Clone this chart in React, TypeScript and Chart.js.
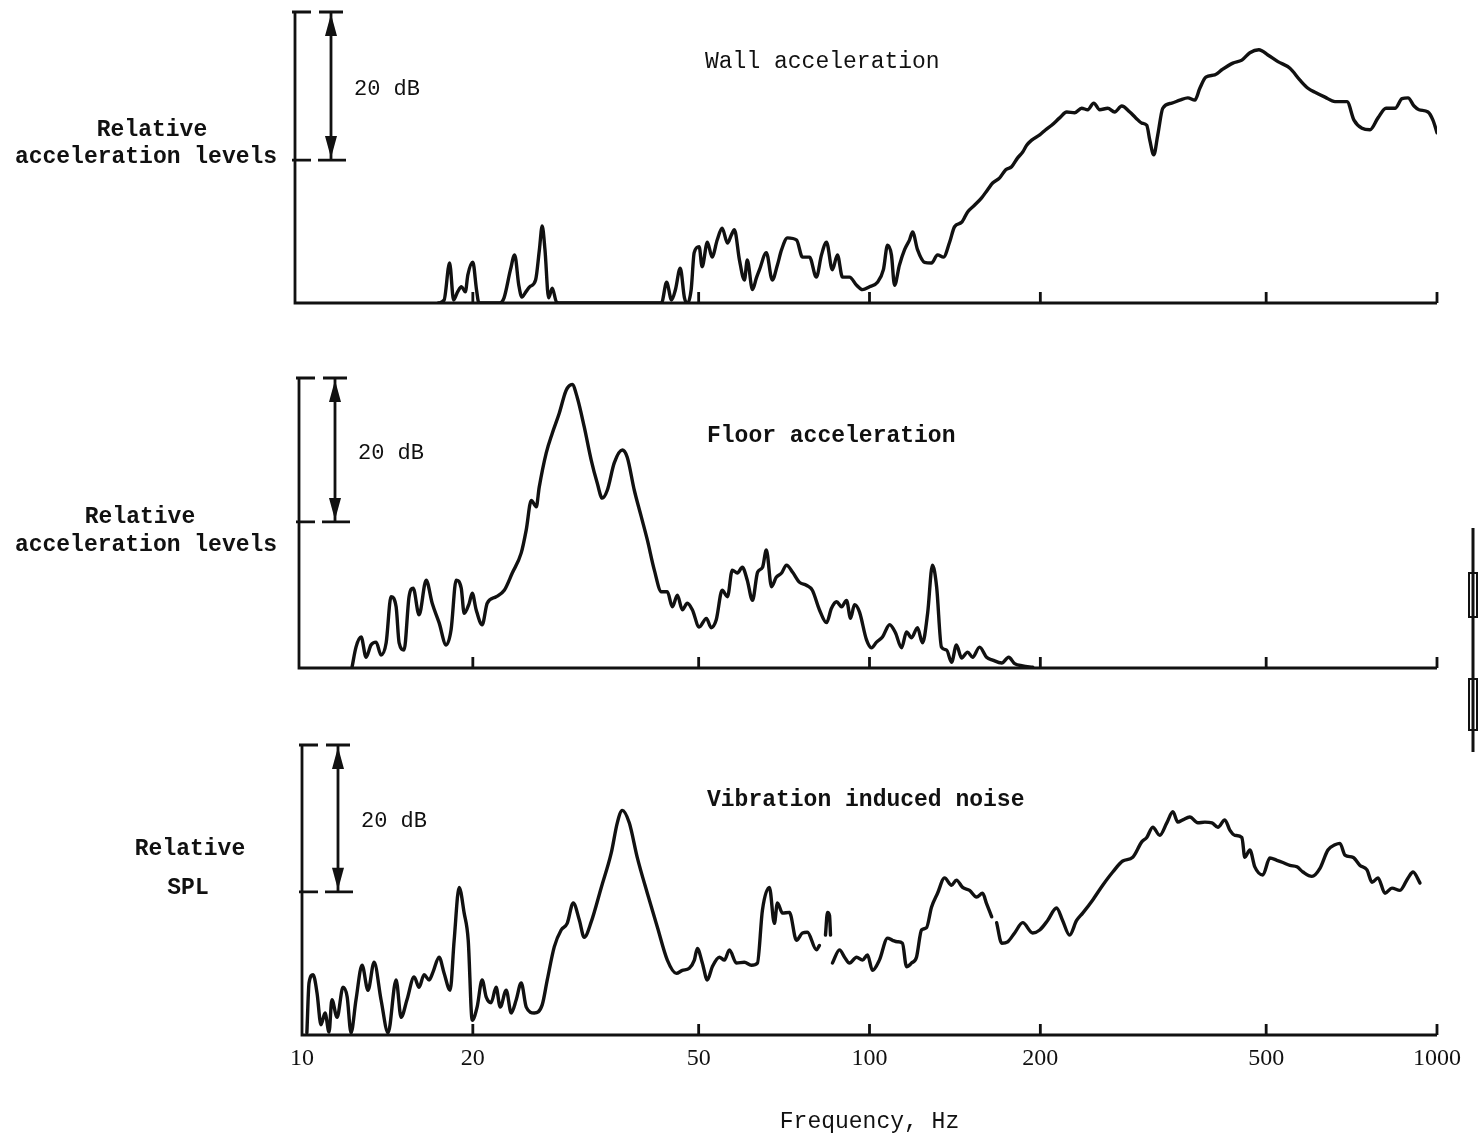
import React, { useEffect, useRef } from "react";
import { Chart, registerables } from "chart.js";

Chart.register(...registerables);

// ---------- data ----------
const xTickValues = [10, 20, 50, 100, 200, 500, 1000];
const xTickLabels = ["10", "20", "50", "100", "200", "500", "1000"];

const wallFreq = [
  17.4, 17.8, 18.2, 18.5, 18.8, 19.1, 19.4, 19.6, 20.0, 20.3,
  20.5, 22.3, 22.7, 23.3, 23.7, 24.1, 24.4, 24.8, 25.2, 25.8,
  26.2, 26.5, 26.8, 27.2, 27.6, 28.1, 28.6, 43.0, 43.9, 44.8,
  45.5, 46.4, 47.2, 47.8, 48.5, 49.1, 50.1, 50.7, 51.8, 52.8,
  53.9, 55.0, 56.2, 57.1, 57.8, 59.0, 60.2, 60.9, 62.2, 63.2,
  64.0, 65.8, 67.4, 68.8, 70.0, 71.7, 74.4, 76.2, 78.4, 80.6,
  82.3, 84.0, 86.0, 87.8, 89.6, 92.2, 94.9, 97.2, 100, 103.3,
  105.8, 107.6, 109.3, 110.7, 112.9, 115.3, 117.6, 119.1, 121.5, 125.0,
  128.6, 131.8, 135.0, 138.4, 141.2, 145.3, 148.9, 153.1, 157.6, 161.5,
  164.8, 169.6, 173.8, 178.0, 182.4, 186.2, 189.2, 193.1, 199.5, 204.4,
  209.4, 216.3, 222.6, 229.9, 236.5, 242.4, 248.4, 254.5, 262.9, 270.4,
  278.3, 287.5, 294.6, 301.8, 308.0, 311.8, 316.9, 322.1, 328.7, 341.0,
  352.2, 363.9, 374.4, 382.0, 391.5, 406.0, 417.7, 436.8, 453.1, 468.0,
  485.5, 503.5, 524.4, 550.6, 573.5, 592.4, 612.0, 634.8, 661.1, 694.0,
  714.0, 737.6, 762.0, 787.1, 813.2, 843.4, 867.8, 889.2, 911.2, 929.5,
  964.1, 983.7, 1000,
];
const wallLevel = [
  0, 0.4, 5.4, 0.4, 1.5, 2.2, 1.5, 3.8, 5.5, 1.8,
  0, 0, 0.7, 4.5, 6.5, 2.4, 0.8, 1.5, 2.2, 3.1,
  7.2, 10.4, 7.2, 0.7, 2.0, 0.1, 0, 0, 2.8, 0.4,
  1.8, 4.7, 0.7, 0, 1.8, 6.8, 7.6, 4.9, 8.2, 6.2,
  8.5, 10.1, 8.1, 9.2, 9.9, 5.8, 3.1, 5.8, 1.8, 3.4,
  4.5, 6.8, 3.1, 5.1, 7.2, 8.8, 8.5, 6.2, 6.2, 3.5,
  6.5, 8.2, 4.5, 6.5, 3.5, 3.5, 2.4, 1.8, 2.2, 2.8,
  4.5, 7.8, 6.5, 2.4, 5.1, 7.2, 8.5, 9.6, 7.2, 5.5,
  5.4, 6.5, 6.2, 8.2, 10.3, 10.9, 12.3, 13.2, 14.2, 15.3,
  16.2, 16.9, 18.0, 18.4, 19.6, 20.4, 21.3, 22.0, 22.7, 23.4,
  24.0, 25.0, 25.8, 25.7, 26.3, 26.1, 27.0, 26.1, 26.3, 25.8,
  26.6, 25.8, 25.0, 24.3, 24.0, 22.0, 20.0, 22.7, 26.3, 27.0,
  27.4, 27.7, 27.4, 29.0, 30.5, 30.8, 31.5, 32.4, 32.8, 33.8,
  34.2, 33.5, 32.6, 31.7, 30.1, 29.0, 28.4, 27.8, 27.2, 27.2,
  24.7, 23.6, 23.4, 25.0, 26.3, 26.3, 27.6, 27.7, 26.6, 26.1,
  25.8, 24.7, 23.0,
];

const floorFreq = [
  12.25, 12.45, 12.71, 12.97, 13.23, 13.51, 13.78, 14.07, 14.35, 14.65,
  14.83, 15.13, 15.44, 15.70, 16.08, 16.55, 16.96, 17.44, 17.95, 18.31,
  18.69, 19.08, 19.31, 19.71, 19.95, 20.27, 20.77, 21.20, 21.98, 22.72,
  23.47, 24.34, 24.84, 25.35, 25.87, 26.18, 26.94, 27.60, 28.40, 29.21,
  29.93, 30.55, 31.43, 32.33, 33.13, 33.81, 34.51, 35.50, 36.67, 37.42,
  38.51, 39.62, 40.60, 41.77, 42.98, 44.03, 44.94, 45.86, 46.80, 47.75,
  48.73, 50.1, 51.6, 52.6, 53.7, 55.0, 56.2, 57.3, 58.5, 59.7,
  60.9, 62.2, 63.5, 64.8, 65.8, 67.2, 68.5, 70.0, 71.4, 73.2,
  75.3, 77.4, 79.3, 81.6, 84.0, 85.7, 87.5, 89.3, 91.1, 92.6,
  94.1, 96.0, 98.8, 100.8, 102.9, 105.4, 108.5, 111.1, 113.9, 116.2,
  118.6, 121.5, 124.0, 126.6, 129.1, 131.3, 133.9, 136.7, 139.5, 142.3,
  145.3, 148.9, 151.9, 156.3, 160.8, 164.8, 171.0, 175.9, 180.2, 186.2,
  193.9,
];
const floorLevel = [
  0.1, 2.9, 4.3, 1.5, 3.2, 3.6, 1.8, 3.5, 9.9, 8.5,
  3.5, 2.5, 9.9, 11.1, 7.4, 12.2, 9.0, 6.3, 3.2, 5.3,
  12.2, 11.1, 7.6, 9.0, 10.4, 8.1, 6.0, 9.0, 9.9, 10.8,
  13.2, 16.0, 19.2, 23.3, 22.4, 25.1, 29.9, 32.6, 35.4, 38.6,
  39.4, 37.6, 33.5, 28.9, 25.7, 23.6, 24.7, 28.5, 30.3, 29.3,
  24.7, 21.0, 17.8, 13.6, 10.6, 10.6, 8.5, 10.1, 8.1, 9.0,
  8.1, 5.7, 6.9, 5.6, 6.7, 10.8, 9.9, 13.6, 13.2, 14.0,
  12.2, 9.4, 13.3, 14.0, 16.4, 11.3, 12.6, 13.2, 14.3, 13.3,
  11.9, 11.5, 10.8, 8.1, 6.3, 8.3, 9.2, 8.5, 9.4, 6.9,
  8.8, 7.8, 3.9, 2.8, 3.6, 4.3, 6.0, 4.9, 2.8, 5.0,
  4.2, 5.6, 3.5, 7.6, 14.3, 11.3, 2.9, 2.5, 0.8, 3.2,
  1.4, 2.2, 1.5, 2.9, 1.5, 1.1, 0.7, 1.5, 0.6, 0.3,
  0.1,
];

const noiseFreq = [
  10.2, 10.29, 10.46, 10.63, 10.80, 10.98, 11.16, 11.29, 11.53, 11.81,
  12.01, 12.20, 12.45, 12.76, 13.07, 13.40, 13.78, 14.18, 14.65, 14.95,
  15.31, 15.76, 16.08, 16.41, 16.75, 17.02, 17.44, 17.80, 18.24, 18.54,
  18.92, 19.31, 19.63, 19.95, 20.35, 20.77, 21.11, 21.54, 21.98, 22.35,
  22.90, 23.37, 23.85, 24.34, 24.84, 25.66, 26.50, 27.05, 27.83, 28.62,
  29.33, 30.06, 30.80, 31.43, 32.33, 33.68, 35.07, 35.94, 36.67, 37.73,
  38.97, 40.60, 42.28, 44.03, 45.67, 46.80, 48.14, 49.13, 49.73, 50.75,
  51.79, 52.85, 54.38, 55.51, 56.65, 58.27, 60.19, 61.93, 63.46, 64.76,
  66.62, 67.98, 68.82, 70.25, 72.27, 74.35, 76.17, 77.72, 80.64, 81.61,
  82.6, 83.64, 84.33, 85.02, 85.37, 85.7, 86.04, 88.54, 90.37, 92.2,
  94.9, 97.2, 99.2, 101.2, 104.1, 107.6, 109.8, 112.0, 114.3, 116.2,
  118.6, 121.0, 123.5, 126.0, 128.6, 131.8, 135.6, 139.5, 142.3, 145.9,
  150.1, 154.4, 158.2, 160.8, 164.2, 165.8, 167.5, 171.0, 175.2, 180.2,
  186.2, 193.9, 199.5, 206.0, 213.6, 218.9, 225.2, 231.7, 237.5, 247.4,
  257.6, 268.3, 279.4, 291.0, 301.8, 308.0, 315.6, 324.7, 334.1, 342.4,
  349.4, 356.5, 366.8, 378.9, 389.9, 401.2, 411.1, 422.8, 431.5, 440.3,
  453.1, 458.5, 468.0, 477.5, 493.3, 507.5, 522.2, 535.1, 550.6, 566.5,
  580.5, 602.0, 621.9, 642.4, 661.1, 674.5, 688.3, 711.1, 731.7, 752.7,
  768.2, 787.1, 809.8, 833.0, 860.4, 889.2, 907.5, 933.3,
];
const noiseLevel = [
  0.3, 7.1, 8.2, 5.7, 1.4, 3.0, 0.4, 4.8, 2.4, 6.5,
  5.2, 0.3, 4.8, 9.5, 6.1, 9.9, 4.8, 0.3, 7.5, 2.4,
  4.8, 7.9, 6.5, 8.2, 7.5, 8.6, 10.6, 8.4, 6.1, 12.9,
  20.1, 16.6, 12.9, 2.0, 3.8, 7.5, 5.2, 4.4, 6.5, 3.8,
  6.1, 3.0, 4.8, 7.1, 3.8, 3.0, 4.1, 7.5, 12.0, 14.3,
  15.2, 18.0, 15.7, 13.3, 15.4, 20.1, 24.8, 28.9, 30.6, 28.9,
  24.2, 19.3, 14.7, 10.2, 8.4, 8.8, 9.1, 10.2, 11.8, 9.8,
  7.5, 9.3, 10.6, 10.2, 11.6, 9.8, 9.9, 9.5, 9.8, 17.0,
  20.1, 15.2, 18.0, 16.6, 16.7, 12.9, 13.9, 14.0, 11.6, 12.2,
  null, 13.6, 16.7, 16.3, 13.6, null, 9.8, 11.6, 10.6, 9.8,
  10.6, 10.2, 10.9, 8.8, 10.2, 13.2, 12.9, 12.7, 12.5, 9.3,
  9.8, 10.6, 14.3, 14.6, 17.4, 19.3, 21.4, 20.4, 21.1, 20.1,
  19.7, 18.8, 19.3, 17.9, 16.1, null, 15.3, 12.5, 12.7, 13.9,
  15.3, 13.9, 14.3, 15.6, 17.3, 15.6, 13.6, 15.6, 16.6, 18.4,
  20.4, 22.2, 23.7, 24.2, 26.3, 26.9, 28.3, 27.2, 28.9, 30.4,
  29.0, 29.3, 29.7, 28.9, 29.0, 28.9, 28.3, 29.3, 27.9, 27.2,
  26.9, 24.2, 25.2, 22.9, 21.8, 24.1, 23.8, 23.5, 23.1, 22.9,
  22.2, 21.6, 22.7, 25.2, 25.9, 26.1, 24.5, 24.2, 23.1, 22.5,
  20.8, 21.4, 19.3, 20.0, 19.7, 21.4, 22.2, 20.7,
];

const panelTitles = ["Wall acceleration", "Floor acceleration", "Vibration induced noise"];
const panelSideLabels = [
  ["Relative", "acceleration levels"],
  ["Relative", "acceleration levels"],
  ["Relative", "SPL"],
];
const panelRangeDb = [39.3, 40.3, 39.5];
const scaleBarDb = 20;
const scaleBarLabel = "20 dB";
const xAxisTitle = "Frequency, Hz";

// ---------- styling / layout ----------
const INK = "#111111";
const MONO = "'Liberation Mono', 'DejaVu Sans Mono', monospace";
const SERIF = "'Liberation Serif', 'DejaVu Serif', serif";

const layouts = [
  { top: 0, height: 330, padTop: 12, padBottom: 27, dx: -4, titleDx: 403, titleDy: 50, titleBold: false, side: [[-150, 118], [-156, 145]], axis: false, margin: false },
  { top: 355, height: 405, padTop: 23, padBottom: 92, dx: 0, titleDx: 405, titleDy: 58, titleBold: true, side: [[-162, 139], [-156, 167]], axis: false, margin: true },
  { top: 725, height: 413, padTop: 20, padBottom: 0, dx: 3, titleDx: 405, titleDy: 55, titleBold: true, side: [[-112, 104], [-114, 143]], axis: true, margin: false },
];

const series = [
  { freq: wallFreq, level: wallLevel },
  { freq: floorFreq, level: floorLevel },
  { freq: noiseFreq, level: noiseLevel },
];

const decorPlugin = {
  id: "decor",
  afterDraw(chart: any, _args: any, opts: any) {
    const { ctx, chartArea: a, scales } = chart;
    const x = scales.x;
    const y = scales.y;
    const i = opts.idx;
    const L = layouts[i];
    const yMax = panelRangeDb[i];
    const y0 = y.getPixelForValue(0);
    const yT = y.getPixelForValue(yMax);
    const yB = y.getPixelForValue(yMax - scaleBarDb);
    const xL = x.getPixelForValue(xTickValues[0]) + L.dx;
    const xR = x.getPixelForValue(xTickValues[xTickValues.length - 1]);
    ctx.save();
    ctx.strokeStyle = INK;
    ctx.fillStyle = INK;
    ctx.lineWidth = 2.8;
    ctx.lineCap = "butt";
    // axes
    ctx.beginPath();
    ctx.moveTo(xL - 3, yT);
    ctx.lineTo(xL - 3, y0);
    ctx.lineTo(xR, y0);
    ctx.stroke();
    // upward tick marks
    ctx.beginPath();
    for (const v of xTickValues.slice(1)) {
      const px = x.getPixelForValue(v);
      ctx.moveTo(px, y0);
      ctx.lineTo(px, y0 - 11);
    }
    // bracket ticks on the level axis
    ctx.moveTo(xL - 6, yT);
    ctx.lineTo(xL + 13, yT);
    ctx.moveTo(xL - 6, yB);
    ctx.lineTo(xL + 13, yB);
    // 20 dB scale bar
    const xb = xL + 33;
    ctx.moveTo(xb - 12, yT);
    ctx.lineTo(xb + 12, yT);
    ctx.moveTo(xb - 13, yB);
    ctx.lineTo(xb + 15, yB);
    ctx.moveTo(xb, yT);
    ctx.lineTo(xb, yB);
    ctx.stroke();
    ctx.beginPath();
    ctx.moveTo(xb, yT + 2);
    ctx.lineTo(xb - 6, yT + 24);
    ctx.lineTo(xb + 6, yT + 24);
    ctx.closePath();
    ctx.fill();
    ctx.beginPath();
    ctx.moveTo(xb, yB - 2);
    ctx.lineTo(xb - 6, yB - 24);
    ctx.lineTo(xb + 6, yB - 24);
    ctx.closePath();
    ctx.fill();
    // margin mark at the right edge (bracket from the facing page)
    if (L.margin) {
      const mx = a.right + 36;
      ctx.lineWidth = 3;
      ctx.beginPath();
      ctx.moveTo(mx, yT + 150);
      ctx.lineTo(mx, y0 + 84);
      ctx.stroke();
      ctx.lineWidth = 2;
      ctx.strokeRect(mx - 4, yT + 195, 8, 44);
      ctx.strokeRect(mx - 4, yT + 301, 8, 51);
    }
    // texts
    ctx.textBaseline = "middle";
    ctx.textAlign = "left";
    ctx.font = `22px ${MONO}`;
    ctx.fillText(scaleBarLabel, xL + 56, (yT + yB) / 2 + 3);
    ctx.font = `${L.titleBold ? "bold " : ""}23px ${MONO}`;
    ctx.fillText(panelTitles[i], a.left + L.titleDx, a.top + L.titleDy);
    ctx.font = `bold 23px ${MONO}`;
    ctx.textAlign = "center";
    panelSideLabels[i].forEach((t, k) => {
      ctx.fillText(t, a.left + L.side[k][0], a.top + L.side[k][1]);
    });
    ctx.restore();
  },
};

function Panel({ idx }: { idx: number }) {
  const ref = useRef<HTMLCanvasElement | null>(null);
  const L = layouts[idx];
  useEffect(() => {
    if (!ref.current) return;
    const s = series[idx];
    const chart = new Chart(ref.current, {
      type: "line",
      data: {
        datasets: [
          {
            data: s.freq.map((f, i) => ({ x: f, y: s.level[i] })) as any,
            borderColor: INK,
            borderWidth: 3.4,
            pointRadius: 0,
            fill: false,
            spanGaps: false,
            cubicInterpolationMode: "monotone",
            borderJoinStyle: "round",
            borderCapStyle: "round",
          } as any,
        ],
      },
      options: {
        animation: false,
        responsive: false,
        events: [],
        layout: { padding: { left: 302, right: 41, top: L.padTop, bottom: L.padBottom } },
        plugins: {
          legend: { display: false },
          tooltip: { enabled: false },
          decor: { idx },
        } as any,
        scales: {
          x: {
            type: "logarithmic",
            min: 10,
            max: 1000,
            display: L.axis,
            grid: { display: false, drawTicks: false },
            border: { display: false },
            afterBuildTicks: (scale: any) => {
              scale.ticks = xTickValues.map((v) => ({ value: v }));
            },
            afterFit: (scale: any) => {
              if (L.axis) scale.height = 103;
            },
            ticks: {
              autoSkip: false,
              maxRotation: 0,
              padding: 9,
              color: INK,
              font: { family: SERIF, size: 24 },
              callback: (_v: any, index: number) => xTickLabels[index],
            },
            title: {
              display: L.axis,
              text: xAxisTitle,
              color: INK,
              font: { family: MONO, size: 23 },
              padding: { top: 0, bottom: 2 },
            },
          } as any,
          y: { type: "linear", min: 0, max: panelRangeDb[idx], display: false },
        },
      },
      plugins: [decorPlugin as any],
    });
    return () => chart.destroy();
  }, [idx]);
  return (
    <canvas
      ref={ref}
      width={1478}
      height={L.height}
      style={{ position: "absolute", left: 0, top: L.top, width: 1478, height: L.height }}
    />
  );
}

export default function App() {
  return (
    <div style={{ position: "absolute", left: 0, top: 0, width: 1478, height: 1138, background: "#ffffff" }}>
      <Panel idx={0} />
      <Panel idx={1} />
      <Panel idx={2} />
    </div>
  );
}
